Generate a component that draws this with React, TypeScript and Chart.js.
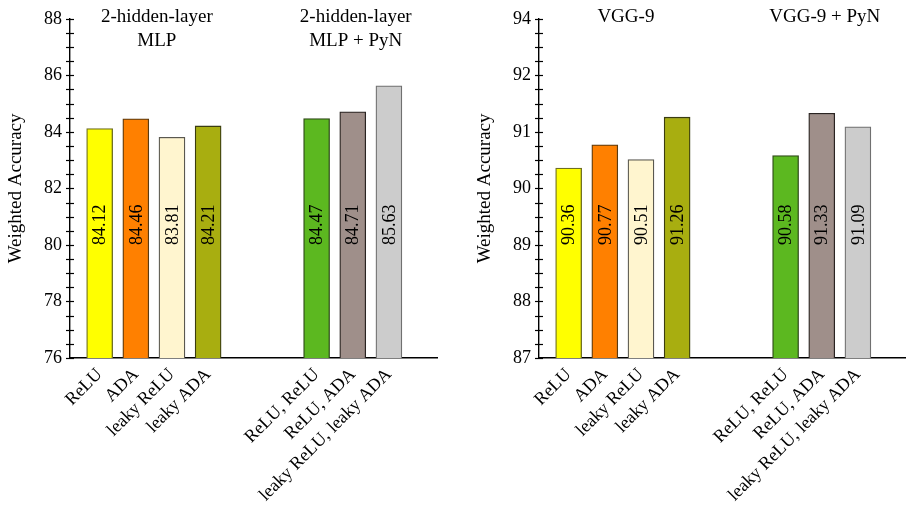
import React, { useEffect, useRef } from "react";
import { Chart, registerables } from "chart.js";

Chart.register(...registerables);

// ---------- data ----------
const categories = ["ReLU", "ADA", "leaky ReLU", "leaky ADA", "ReLU, ReLU", "ReLU, ADA", "leaky ReLU, leaky ADA"];
const slotIndex = [0, 1, 2, 3, 6, 7, 8];
const mlpValues = [84.12, 84.46, 83.81, 84.21, 84.47, 84.71, 85.63];
const vggValues = [90.36, 90.77, 90.51, 91.26, 90.58, 91.33, 91.09];
const barColors = ["#ffff00", "#ff8000", "#fff5cf", "#a8ae10", "#5cb820", "#9f8f8a", "#cccccc"];
const barBorders = ["#6f6f20", "#5a3a10", "#5a5850", "#3a3c10", "#2e4a18", "#2a2422", "#707070"];
const mlpTitles = [["2-hidden-layer", "MLP"], ["2-hidden-layer", "MLP + PyN"]];
const vggTitles = [["VGG-9"], ["VGG-9 + PyN"]];
const mlpTickValues = [76, 78, 80, 82, 84, 86, 88];
const mlpTickLabels = ["76", "78", "80", "82", "84", "86", "88"];
const vggTickValues = [87, 88, 89, 90, 91, 92, 93];
const vggTickLabels = ["87", "88", "89", "90", "91", "92", "94"];
const groups = [[0, 1, 2, 3], [6, 7, 8]];

const FONT = "'Liberation Serif', 'Times New Roman', serif";

type PanelProps = {
  values: number[];
  titles: string[][];
  tickValues: number[];
  tickLabels: string[];
  minorStep: number;
  labelAnchor: number;
  width: number;
  rightPad: number;
};

const Panel: React.FC<PanelProps> = ({ values, titles, tickValues, tickLabels, minorStep, labelAnchor, width, rightPad }) => {
  const ref = useRef<HTMLCanvasElement | null>(null);
  useEffect(() => {
    if (!ref.current) return;
    const yMin = tickValues[0];
    const yMax = tickValues[tickValues.length - 1];

    const decorPlugin = {
      id: "decor",
      afterDatasetsDraw(chart: any) {
        const ctx = chart.ctx;
        const xs = chart.scales.x;
        const ys = chart.scales.y;
        const area = chart.chartArea;
        ctx.save();
        // ticks crossing y axis
        ctx.strokeStyle = "#000";
        ctx.lineWidth = 1.2;
        for (let v = yMin; v <= yMax + 1e-9; v += minorStep) {
          const py = Math.round(ys.getPixelForValue(v)) + 0.5;
          ctx.beginPath();
          ctx.moveTo(area.left - 4, py);
          ctx.lineTo(area.left + 4, py);
          ctx.stroke();
        }
        // value labels
        const meta = chart.getDatasetMeta(0);
        ctx.font = `18px ${FONT}`;
        ctx.fillStyle = "#000";
        ctx.textAlign = "left";
        ctx.textBaseline = "middle";
        const ay = ys.getPixelForValue(labelAnchor);
        meta.data.forEach((bar: any, i: number) => {
          ctx.save();
          ctx.translate(bar.x + 1, ay);
          ctx.rotate(-Math.PI / 2);
          ctx.fillText(values[i].toFixed(2), 0, 0);
          ctx.restore();
        });
        // group titles
        ctx.font = `19px ${FONT}`;
        ctx.textAlign = "center";
        ctx.textBaseline = "middle";
        titles.forEach((lines, g) => {
          const idx = groups[g];
          const c = idx.reduce((a, b) => a + b, 0) / idx.length;
          const px = xs.getPixelForValue(c);
          lines.forEach((t, li) => {
            ctx.fillText(t, px + 3, 17 + li * 24);
          });
        });
        ctx.restore();
      },
    };

    const chart = new Chart(ref.current, {
      type: "bar",
      data: {
        datasets: [
          {
            data: slotIndex.map((x, i) => ({ x, y: values[i] })),
            backgroundColor: barColors,
            borderColor: barBorders,
            borderWidth: 1.3,
            barThickness: 26,
            base: yMin,
          } as any,
        ],
      },
      options: {
        animation: false,
        responsive: false,
        devicePixelRatio: 1,
        layout: { padding: { left: 0, top: 15, right: rightPad, bottom: 0 } },
        plugins: { legend: { display: false }, tooltip: { enabled: false } },
        scales: {
          x: {
            type: "linear",
            min: -0.82,
            max: 9.33,
            offset: false,
            grid: { display: false, drawTicks: false },
            border: { display: true, color: "#000", width: 1.4 },
            afterBuildTicks: (scale: any) => {
              scale.ticks = slotIndex.map((v) => ({ value: v }));
            },
            afterFit: (scale: any) => {
              scale.height = 150;
            },
            ticks: {
              autoSkip: false,
              minRotation: 45,
              maxRotation: 45,
              padding: 6,
              color: "#000",
              font: { family: FONT, size: 18 },
              callback: (v: any) => {
                const i = slotIndex.indexOf(Number(v));
                return i >= 0 ? categories[i] : "";
              },
            },
          },
          y: {
            type: "linear",
            min: yMin,
            max: yMax,
            grid: { display: false, drawTicks: false },
            border: { display: true, color: "#000", width: 1.4 },
            afterBuildTicks: (scale: any) => {
              scale.ticks = tickValues.map((v) => ({ value: v }));
            },
            afterFit: (scale: any) => {
              scale.width = 70;
            },
            title: {
              display: true,
              text: "Weighted Accuracy",
              color: "#000",
              font: { family: FONT, size: 19 },
              padding: { top: 5, bottom: 0 },
            },
            ticks: {
              padding: 8,
              color: "#000",
              font: { family: FONT, size: 18 },
              callback: (v: any) => {
                const i = tickValues.indexOf(Number(v));
                return i >= 0 ? tickLabels[i] : "";
              },
            },
          },
        },
      } as any,
      plugins: [decorPlugin],
    });
    return () => chart.destroy();
  }, []);
  return <canvas ref={ref} width={width} height={508} style={{ display: "block", width, height: 508 }} />;
};

export default function App() {
  return (
    <div style={{ position: "absolute", left: 0, top: 0, width: 906, height: 508, background: "#fff" }}>
      <div style={{ position: "absolute", left: 0, top: 0 }}>
        <Panel
          values={mlpValues}
          titles={mlpTitles}
          tickValues={mlpTickValues}
          tickLabels={mlpTickLabels}
          minorStep={0.5}
          labelAnchor={80}
          width={453}
          rightPad={16}
        />
      </div>
      <div style={{ position: "absolute", left: 469, top: 0 }}>
        <Panel
          values={vggValues}
          titles={vggTitles}
          tickValues={vggTickValues}
          tickLabels={vggTickLabels}
          minorStep={0.25}
          labelAnchor={89}
          width={437}
          rightPad={0}
        />
      </div>
    </div>
  );
}
